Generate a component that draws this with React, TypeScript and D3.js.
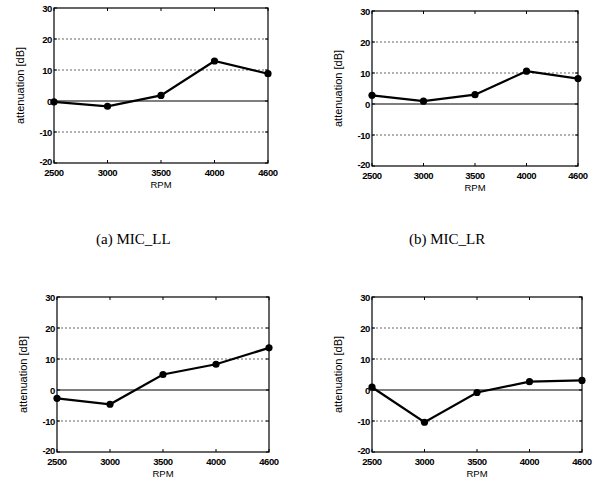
import React from "react";
import * as d3 from "d3";

const rpmLabels = ["2500", "3000", "3500", "4000", "4600"];
const yTicks = [30, 20, 10, 0, -10, -20];
const micLL = [-0.3, -1.7, 1.8, 12.9, 8.8];
const micLR = [2.8, 0.9, 3.0, 10.6, 8.2];
const micC = [-2.7, -4.6, 5.0, 8.3, 13.6];
const micD = [0.9, -10.4, -0.8, 2.7, 3.1];

const panels = [
  { values: micLL, L: 54, R: 268, T: 8, B: 163, caption: "(a)  MIC_LL", cx: 96, cy: 244 },
  { values: micLR, L: 372, R: 578, T: 11, B: 166, caption: "(b)  MIC_LR", cx: 409, cy: 244 },
  { values: micC, L: 57, R: 269, T: 297, B: 452, caption: null, cx: 0, cy: 0 },
  { values: micD, L: 372, R: 582, T: 297, B: 452, caption: null, cx: 0, cy: 0 },
];

const sans = "'Liberation Sans', Arial, sans-serif";

function Panel({ p }: { p: typeof panels[number] }) {
  const x = d3.scalePoint<string>().domain(rpmLabels).range([p.L, p.R]);
  const y = d3.scaleLinear().domain([-20, 30]).range([p.B, p.T]);
  const data = rpmLabels.map((l, i) => ({ l, v: p.values[i] }));
  const line = d3
    .line<{ l: string; v: number }>()
    .x((d) => x(d.l) as number)
    .y((d) => y(d.v));
  const midY = (p.T + p.B) / 2;
  const midX = (p.L + p.R) / 2;
  return (
    <g>
      {yTicks
        .filter((t) => t !== 30 && t !== -20 && t !== 0)
        .map((t) => (
          <line key={"g" + t} x1={p.L} x2={p.R} y1={y(t)} y2={y(t)} stroke="#555" strokeWidth={0.9} strokeDasharray="2,2" />
        ))}
      <line x1={p.L} x2={p.R} y1={y(0)} y2={y(0)} stroke="#000" strokeWidth={1.2} />
      <rect x={p.L} y={p.T} width={p.R - p.L} height={p.B - p.T} fill="none" stroke="#000" strokeWidth={1.2} />
      {rpmLabels.map((l) => (
        <g key={"xt" + l}>
          <line x1={x(l)} x2={x(l)} y1={p.B} y2={p.B - 3} stroke="#000" />
          <line x1={x(l)} x2={x(l)} y1={p.T} y2={p.T + 3} stroke="#000" />
          <text x={x(l)} y={p.B + 12.5} textAnchor="middle" fontSize={9.5} fontWeight="bold" fontFamily={sans} letterSpacing={-0.4}>
            {l}
          </text>
        </g>
      ))}
      {yTicks.map((t) => (
        <g key={"yt" + t}>
          <line x1={p.L} x2={p.L + 3} y1={y(t)} y2={y(t)} stroke="#000" />
          <line x1={p.R} x2={p.R - 3} y1={y(t)} y2={y(t)} stroke="#000" />
          <text
            x={p.L - 2}
            y={y(t) + (t === -20 ? 1.5 : 3.5)}
            textAnchor="end"
            fontSize={9.5}
            fontWeight="bold"
            fontFamily={sans}
            letterSpacing={-0.4}
          >
            {t}
          </text>
        </g>
      ))}
      <text x={midX} y={p.B + 25} textAnchor="middle" fontSize={9.5} fontFamily={sans}>
        RPM
      </text>
      <text
        transform={`translate(${p.L - 30},${midY}) rotate(-90)`}
        textAnchor="middle"
        fontSize={11}
        fontFamily={sans}
      >
        attenuation [dB]
      </text>
      <path d={line(data) as string} fill="none" stroke="#000" strokeWidth={2.2} />
      {data.map((d) => (
        <circle key={"c" + d.l} cx={x(d.l)} cy={y(d.v)} r={3.6} fill="#000" />
      ))}
      {p.caption && (
        <text x={p.cx} y={p.cy} fontSize={15} fontFamily="'Liberation Serif', 'Times New Roman', serif">
          {p.caption}
        </text>
      )}
    </g>
  );
}

export default function App() {
  return (
    <svg width={597} height={485} style={{ position: "absolute", left: 0, top: 0, background: "#fff" }}>
      <rect width={597} height={485} fill="#fff" />
      {panels.map((p, i) => (
        <Panel key={i} p={p} />
      ))}
    </svg>
  );
}
